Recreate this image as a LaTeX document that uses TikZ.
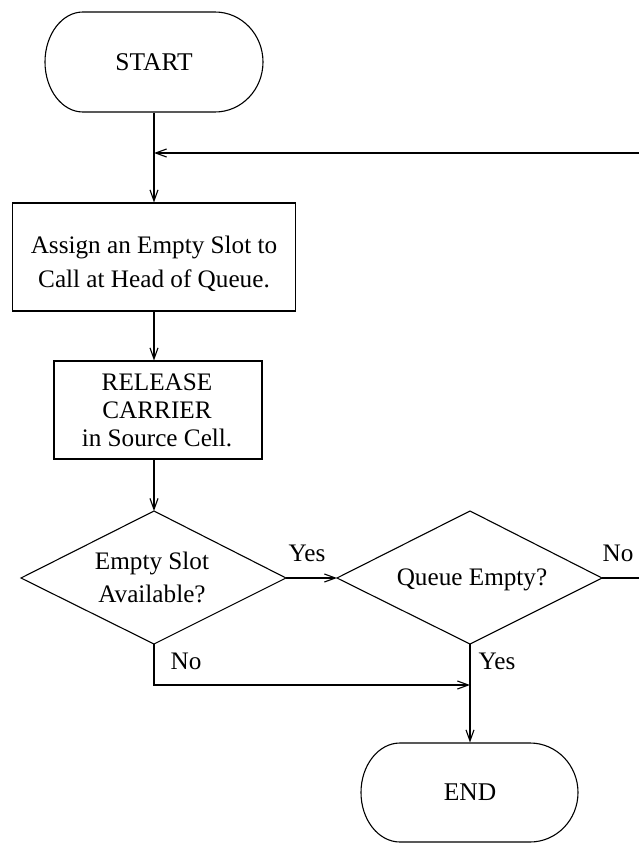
\documentclass[tikz,border=0pt]{standalone}
\usepackage{fontspec}
\setmainfont{Liberation Serif}
\usetikzlibrary{arrows.meta}
\begin{document}
\begin{tikzpicture}[x=1pt,y=-1pt,line width=1.1pt,
  txt/.style={font=\fontsize{25.2}{34}\selectfont, inner sep=0pt, align=center},
  boxtxt/.style={font=\fontsize{25.2}{28}\selectfont, inner sep=0pt, align=center},
  lbl/.style={font=\fontsize{25.2}{30}\selectfont, inner sep=0pt, anchor=base},
  procbox/.style={draw, inner sep=0pt},
  term/.style={inner sep=0pt, font=\fontsize{25.5}{30}\selectfont},
  arr/.style={-{Straight Barb[length=11pt,width=8pt,line width=1.1pt]}}]
\useasboundingbox (0,0) rectangle (639,843);

% START terminal
\node[term, minimum width=218pt, minimum height=100pt] (start) at (154,62) {START};
\draw (83,12) -- (215,12) arc[start angle=-90, end angle=90, x radius=48, y radius=50]
      -- (83,112) arc[start angle=90, end angle=270, x radius=38, y radius=50] -- cycle;

% process boxes
\node[procbox, minimum width=283pt, minimum height=108pt] (box1) at (154,257) {};
\node[txt] (box1t) at (154,264) {Assign an Empty Slot to\\Call at Head of Queue.};
\node[procbox, minimum width=208pt, minimum height=98pt] (box2) at (158,410) {};
\node[boxtxt] (box2t) at (157,410) {RELEASE\\CARRIER\\in Source Cell.};

% decision 1
\coordinate (d1t) at (154,511);
\coordinate (d1r) at (286,578);
\coordinate (d1b) at (154,644);
\coordinate (d1l) at (21,578);
\draw (d1t) -- (d1r) -- (d1b) -- (d1l) -- cycle;
\node[txt, font=\fontsize{25.2}{33}\selectfont] (d1) at (152,577) {Empty Slot\\Available?};

% decision 2
\coordinate (d2t) at (470,511);
\coordinate (d2r) at (602,578);
\coordinate (d2b) at (470,644);
\coordinate (d2l) at (337,578);
\draw (d2t) -- (d2r) -- (d2b) -- (d2l) -- cycle;
\node[txt] (d2) at (472,580) {Queue Empty?};

% END terminal
\node[term, minimum width=217pt, minimum height=99pt] (end) at (470,792.5) {END};
\draw (400,743) -- (530,743) arc[start angle=-90, end angle=90, x radius=48, y radius=49.5]
      -- (400,842) arc[start angle=90, end angle=270, x radius=39, y radius=49.5] -- cycle;

% connectors
\coordinate (j) at (154,153);
\coordinate (rc) at (642,153);
\coordinate (m) at (470,685);
\draw[arr] (start.south) -- (box1.north);
\draw[arr] (d2r) -| (rc) -- (j);
\draw[arr] (box1.south) -- (box1.south |- box2.north);
\draw[arr] (box1.south |- box2.south) -- (d1t);
\draw[arr] (d1r) -- (d2l);
\draw[arr] (d1b) |- (m);
\draw[arr] (d2b) -- (end.north);

% labels
\node[lbl] (yes1) at (307,561) {Yes};
\node[lbl] (no1) at (618,561) {No};
\node[lbl] (no2) at (186,669) {No};
\node[lbl] (yes2) at (497,669) {Yes};
\end{tikzpicture}
\end{document}
